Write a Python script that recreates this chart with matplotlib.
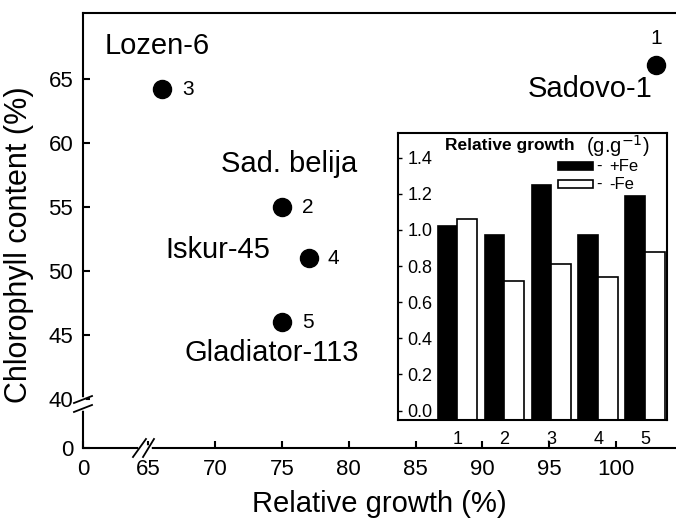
import numpy as np
import matplotlib.pyplot as plt
from matplotlib.patches import Rectangle

plt.rcParams['font.family'] = ['Liberation Sans', 'DejaVu Sans']

# main scatter: relative growth vs chlorophyll content
cultivars = ['Sadovo-1', 'Sad. belija', 'Lozen-6', 'Iskur-45', 'Gladiator-113']
numbers = ['1', '2', '3', '4', '5']
growth = [103, 75, 66, 77, 75]
chlorophyll = [66.1, 55, 64.2, 51, 46]

# inset: relative growth (g.g-1) with and without Fe
groups = [1, 2, 3, 4, 5]
plus_fe = [1.02, 0.97, 1.25, 0.97, 1.19]
minus_fe = [1.06, 0.72, 0.81, 0.74, 0.88]

# axis values that stand for "0" after the breaks
x_zero = 60.1
y_zero = 36.2

fig = plt.figure(figsize=(6.76, 5.18), dpi=100)
ax = fig.add_axes([83/676, 1-448/518, 593/676, 435/518])

ax.plot(growth, chlorophyll, 'o', color='black', ms=13, zorder=3)

# name and number labels (offsets in pixels)
name_off = [(-4, -24, 'right'), (7, 43, 'center'), (-5, 43, 'center'),
            (-38, 8, 'right'), (-10, -31, 'center')]
num_off = [(0, 27), (20, 0), (20, 0), (19, 0), (20, 0)]
for i in range(len(cultivars)):
    dx, dy, ha = name_off[i]
    ax.annotate(cultivars[i], (growth[i], chlorophyll[i]), xytext=(dx, dy),
                textcoords='offset pixels', ha=ha, va='center', fontsize=21)
    nx, ny = num_off[i]
    ax.annotate(numbers[i], (growth[i], chlorophyll[i]), xytext=(nx, ny),
                textcoords='offset pixels', ha='center' if nx == 0 else 'left',
                va='center', fontsize=15)

ax.set_xlim(x_zero, 104.5)
ax.set_ylim(y_zero, 70.16)
xt = [x_zero] + list(range(65, 101, 5))
ax.set_xticks(xt)
ax.set_xticklabels(['0'] + [str(v) for v in range(65, 101, 5)])
yt = [y_zero] + list(range(40, 66, 5))
ax.set_yticks(yt)
ax.set_yticklabels(['0'] + [str(v) for v in range(40, 66, 5)])
ax.tick_params(direction='in', length=5, width=1.5, labelsize=16)
ax.tick_params(axis='x', pad=8)
ax.tick_params(axis='y', pad=7)
ax.spines['right'].set_visible(False)
for s in ['left', 'bottom', 'top']:
    ax.spines[s].set_linewidth(1.5)
ax.set_xlabel('Relative growth (%)', fontsize=21, labelpad=7)
ax.set_ylabel('Chlorophyll content (%)', fontsize=22)
ax.yaxis.set_label_coords(-0.083, 0.467)

# axis breaks
ax.plot([0, 0], [0.092, 0.1103], color='white', lw=4, transform=ax.transAxes,
        clip_on=False, zorder=5)
ax.plot([-0.0152, 0.0152], [0.1034, 0.1195], color='black', lw=1.3,
        transform=ax.transAxes, clip_on=False, zorder=6)
ax.plot([-0.0152, 0.0152], [0.0828, 0.0989], color='black', lw=1.3,
        transform=ax.transAxes, clip_on=False, zorder=6)
ax.plot([0.0978, 0.1113], [0, 0], color='white', lw=4, transform=ax.transAxes,
        clip_on=False, zorder=5)
ax.plot([0.0843, 0.1062], [-0.0207, 0.0207], color='black', lw=1.3,
        transform=ax.transAxes, clip_on=False, zorder=6)
ax.plot([0.1012, 0.1197], [-0.0207, 0.0207], color='black', lw=1.3,
        transform=ax.transAxes, clip_on=False, zorder=6)

# inset bar chart
axin = fig.add_axes([398/676, 1-420/518, 269/676, 287/518])
x = np.array(groups)
w = 0.42
y_bot = -0.052
axin.bar(x - w/2, np.array(plus_fe) - y_bot, bottom=y_bot, width=w,
         color='black', edgecolor='black', lw=1.2)
axin.bar(x + w/2, np.array(minus_fe) - y_bot, bottom=y_bot, width=w,
         color='white', edgecolor='black', lw=1.2)
axin.set_xlim(-0.266, 5.468)
axin.set_ylim(y_bot, 1.537)
axin.set_xticks(groups)
axin.set_xticklabels([str(g) for g in groups])
axin.set_yticks(np.arange(0, 1.41, 0.2))
axin.set_yticklabels(['%.1f' % v for v in np.arange(0, 1.41, 0.2)])
axin.tick_params(axis='x', length=0, labelsize=13, pad=8)
axin.tick_params(axis='y', direction='in', length=3, width=1, labelsize=13,
                 pad=-7)
for lab in axin.get_yticklabels():
    lab.set_horizontalalignment('left')
for s in axin.spines.values():
    s.set_linewidth(1.5)

# legend drawn by hand, Origin style
for yy, fc, lab in [(0.885, 'black', '+Fe'), (0.822, 'white', '-Fe')]:
    axin.add_patch(Rectangle((0.595, yy - 0.014), 0.13, 0.028, fc=fc,
                             ec='black', lw=1.2, transform=axin.transAxes))
    axin.text(0.738, yy, '-', fontsize=12, va='center', transform=axin.transAxes)
    axin.text(0.785, yy, lab, fontsize=12, va='center', transform=axin.transAxes)

t1 = axin.text(0.175, 0.955, 'Relative growth', fontweight='bold', fontsize=12.5,
               va='center', transform=axin.transAxes)
axin.annotate('  (g.g$^{-1}$)', xy=(1, 0.5), xycoords=t1, va='center',
              fontsize=14.5)

fig.savefig('out.png', dpi=100)
